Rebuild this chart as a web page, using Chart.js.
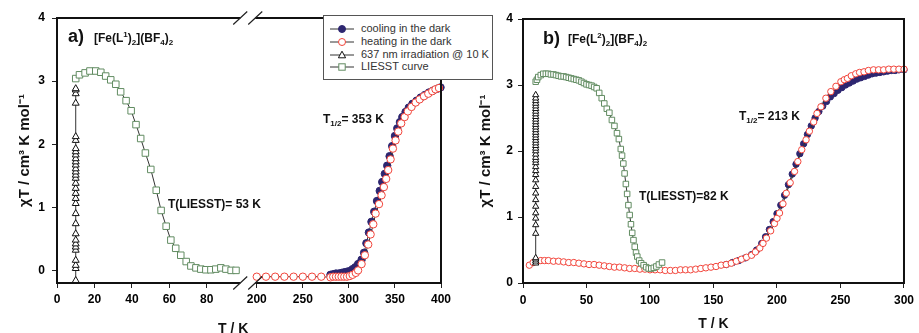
<!DOCTYPE html>
<html>
<head>
<meta charset="utf-8">
<script src="https://cdn.jsdelivr.net/npm/chart.js@4.4.1/dist/chart.umd.min.js"></script>
<style>
  body { margin: 0; background: #fff; }
  #page { position: relative; width: 919px; height: 333px; overflow: hidden; font-family: "Liberation Sans", Arial, sans-serif; }
  #chartA { position: absolute; left: 0; top: 0; }
  #chartB { position: absolute; left: 460px; top: 0; }
  .note { position: absolute; font-weight: bold; font-size: 12px; line-height: 1; color: #111; white-space: nowrap; }
  .note sub, .note sup { font-size: 8px; line-height: 0; }
  .big { font-size: 18px; }
  #legend { position: absolute; left: 323px; top: 15px; width: 170px; height: 65px; box-sizing: border-box;
            border: 1px solid #555; background: #fff; padding: 6px 0 0 6px; font-size: 11px; color: #333; }
  #legend .row { height: 12.8px; line-height: 12.8px; white-space: nowrap; }
  #legend svg { vertical-align: middle; margin-right: 7px; }
</style>
</head>
<body>
<div id="page">
  <canvas id="chartA" width="460" height="333"></canvas>
  <canvas id="chartB" width="459" height="333"></canvas>

  <div class="note big" style="left:68px; top:27px;">a)</div>
  <div class="note" style="left:94px; top:32px;">[Fe(L<sup>1</sup>)<sub>2</sub>](BF<sub>4</sub>)<sub>2</sub></div>
  <div class="note" style="left:168px; top:198px;">T(LIESST)= 53 K</div>
  <div class="note" style="left:323px; top:113px;">T<sub>1/2</sub>= 353 K</div>
  <div class="note" style="left:218px; top:321px; font-size:14px;">T / K</div>

  <div class="note big" style="left:543px; top:29px;">b)</div>
  <div class="note" style="left:568px; top:33px;">[Fe(L<sup>2</sup>)<sub>2</sub>](BF<sub>4</sub>)<sub>2</sub></div>
  <div class="note" style="left:739px; top:110px;">T<sub>1/2</sub>= 213 K</div>
  <div class="note" style="left:639px; top:190px;">T(LIESST)=82 K</div>

  <div id="legend"></div>
</div>

<script>
// ---------- panel a : [Fe(L1)2](BF4)2 ----------
const liesstA_T = [10, 12, 15, 17.6, 20.7, 23.4, 26, 28.7, 31.4, 34, 36.9, 39.6, 42.2, 44.7, 47.2, 50.1, 53, 55.6, 58.3, 60.8, 63.4, 66.1, 69, 71.5, 74.2, 76.8, 79.5, 82.2, 84.8, 87.5, 90.2, 93, 95.6];
const liesstA_Y = [3.04, 3.10, 3.13, 3.16, 3.16, 3.14, 3.08, 3.02, 2.95, 2.83, 2.69, 2.53, 2.31, 2.09, 1.86, 1.60, 1.27, 0.95, 0.70, 0.48, 0.35, 0.24, 0.14, 0.07, 0.04, 0.02, 0.01, 0.01, 0.02, 0.04, 0.02, 0.00, 0.00];
const irradA_Y = [-0.16, 0.03, 0.08, 0.16, 0.32, 0.37, 0.42, 0.48, 0.58, 0.74, 0.9, 1.06, 1.14, 1.22, 1.3, 1.38, 1.46, 1.51, 1.56, 1.61, 1.67, 1.72, 1.77, 1.83, 1.88, 1.93, 2.06, 2.12, 2.65, 2.8, 2.86, 2.88];
const coolA_T = [280, 283, 286, 289, 292, 295, 298, 301, 304, 307, 310, 313.8, 316.5, 319, 321.7, 324.5, 327.5, 330.5, 333.5, 336.2, 339, 341.6, 344.2, 347, 350, 352.5, 355.4, 358, 361.5, 365, 369, 373.5, 378, 382.5, 387, 391.5, 396, 399.5];
const coolA_Y = [-0.07, -0.06, -0.05, -0.05, -0.04, -0.03, -0.02, -0.01, 0.02, 0.05, 0.1, 0.17, 0.28, 0.43, 0.6, 0.77, 0.93, 1.1, 1.26, 1.4, 1.53, 1.66, 1.81, 1.97, 2.13, 2.25, 2.35, 2.43, 2.51, 2.58, 2.64, 2.69, 2.74, 2.78, 2.82, 2.85, 2.88, 2.9];
const heatA_T = [200, 210, 220, 230, 240, 250, 260, 270, 280, 283, 286, 289, 292, 295, 298, 301, 304, 307.5, 310, 313.8, 317.4, 321, 323.6, 326.5, 329, 332.7, 335.5, 338, 340.5, 342.7, 345.3, 347.8, 350.7, 353.6, 356.8, 360.5, 364, 368, 372.5, 376.8, 381.5, 386.2, 390.5, 394, 397.8];
const heatA_Y = [-0.1, -0.1, -0.1, -0.1, -0.1, -0.1, -0.1, -0.1, -0.11, -0.1, -0.1, -0.1, -0.1, -0.1, -0.1, -0.09, -0.07, -0.04, 0.0, 0.1, 0.24, 0.41, 0.57, 0.73, 0.9, 1.05, 1.19, 1.32, 1.45, 1.59, 1.76, 1.93, 2.06, 2.2, 2.33, 2.43, 2.52, 2.59, 2.66, 2.71, 2.76, 2.8, 2.84, 2.87, 2.89];

// ---------- panel b : [Fe(L2)2](BF4)2 ----------
const liesstB_T = [10, 11, 12, 14, 16, 18, 20, 22, 24, 26, 28, 30, 32, 34, 36, 38, 40, 42, 44, 46, 48, 50, 52, 54, 56, 58, 60, 62, 64, 66, 68, 70, 72, 74, 75.5, 77, 78, 79, 80, 81, 82, 83, 84, 85, 86, 87, 88, 89, 90, 91.5, 93, 95, 97, 99, 101, 103, 105, 107, 109.5];
const liesstB_Y = [3.05, 3.08, 3.12, 3.15, 3.17, 3.17, 3.17, 3.16, 3.16, 3.15, 3.14, 3.13, 3.13, 3.12, 3.11, 3.10, 3.09, 3.08, 3.07, 3.05, 3.03, 3.01, 3.00, 2.99, 2.97, 2.95, 2.88, 2.80, 2.72, 2.64, 2.58, 2.47, 2.38, 2.27, 2.18, 2.03, 1.93, 1.81, 1.66, 1.50, 1.35, 1.18, 1.03, 0.89, 0.76, 0.65, 0.55, 0.46, 0.40, 0.34, 0.30, 0.27, 0.24, 0.22, 0.22, 0.23, 0.25, 0.28, 0.31];
const irradB_Y = [0.3, 0.33, 0.36, 0.38, 0.75, 0.88, 0.98, 1.06, 1.16, 1.26, 1.36, 1.46, 1.56, 1.64, 1.7, 1.76, 1.82, 1.86, 1.9, 1.95, 2.0, 2.04, 2.08, 2.12, 2.16, 2.2, 2.24, 2.28, 2.32, 2.36, 2.4, 2.44, 2.48, 2.52, 2.56, 2.6, 2.64, 2.68, 2.72, 2.76, 2.8, 2.85];
const coolB_T = [160, 165, 170, 175, 180, 184, 188, 191, 194, 197, 200, 203, 206, 209, 212, 215, 218, 221, 224, 227, 230, 233, 236, 239, 242, 245, 248, 251, 254, 257, 260, 263, 266, 269, 272, 275, 278, 281, 284, 287, 290, 293, 296, 300];
const coolB_Y = [0.28, 0.31, 0.34, 0.38, 0.43, 0.5, 0.6, 0.7, 0.81, 0.93, 1.05, 1.18, 1.33, 1.49, 1.65, 1.8, 1.96, 2.11, 2.25, 2.38, 2.5, 2.6, 2.68, 2.75, 2.82, 2.87, 2.92, 2.96, 3.0, 3.03, 3.06, 3.09, 3.11, 3.13, 3.15, 3.17, 3.18, 3.19, 3.2, 3.21, 3.22, 3.22, 3.23, 3.23];
const heatB_T = [5, 8, 11, 14, 17, 20, 24, 28, 32, 36, 40, 44, 48, 52, 56, 60, 64, 68, 72, 76, 80, 84, 88, 92, 96, 100, 104, 108, 112, 116, 120, 124, 128, 132, 136, 140, 144, 148, 152, 156, 160, 164, 168, 172, 176, 180, 183, 186.5, 189, 191.7, 195, 198, 200, 202, 204.7, 207.3, 210.4, 213.8, 216.4, 219.5, 222.9, 225.5, 228.9, 231.5, 234.6, 238.5, 242.4, 246.4, 250.3, 253, 255.5, 258.5, 262, 265, 268.5, 272, 276, 280, 284, 288, 292, 296, 300];
const heatB_Y = [0.27, 0.31, 0.33, 0.34, 0.34, 0.34, 0.33, 0.33, 0.32, 0.31, 0.31, 0.3, 0.29, 0.28, 0.28, 0.27, 0.26, 0.25, 0.24, 0.24, 0.23, 0.22, 0.22, 0.21, 0.21, 0.2, 0.2, 0.2, 0.19, 0.19, 0.19, 0.2, 0.2, 0.2, 0.21, 0.22, 0.23, 0.24, 0.25, 0.27, 0.28, 0.3, 0.33, 0.36, 0.39, 0.42, 0.47, 0.53, 0.6, 0.68, 0.79, 0.9, 0.98, 1.06, 1.2, 1.36, 1.52, 1.69, 1.84, 2.02, 2.17, 2.3, 2.44, 2.57, 2.67, 2.8, 2.9, 2.98, 3.05, 3.08, 3.1, 3.14, 3.17, 3.19, 3.2, 3.22, 3.23, 3.23, 3.23, 3.24, 3.24, 3.24, 3.24];

const irradT = 10;   // K, irradiation temperature
const yTicks = [0, 1, 2, 3, 4];
const xTicksA = [0, 20, 40, 60, 80, 200, 250, 300, 350, 400];
const xTicksB = [0, 50, 100, 150, 200, 250, 300];

// broken axis of panel a: 0..~98 K on the left, 198..400 K on the right
function mapA(t) { return t < 150 ? t * 1.87 : 199.5 + (t - 200) * 0.92; }
const gapA = [183, 198];

const navy = '#2d2670', red = '#f2443a', green = '#628c62', black = '#111';
const fontFam = '"Liberation Sans", Arial, sans-serif';
Chart.defaults.font.family = fontFam;
Chart.defaults.color = '#000';

function pts(T, Y, map) { return T.map((t, i) => ({ x: map(t), y: Y[i] })); }
function column(Y, map) { return Y.map(v => ({ x: map(irradT), y: v })); }
const same = t => t;

function serie(label, data, shape, edge, fill, r) {
    return {
        label: label, data: data, showLine: true, borderColor: '#333', borderWidth: 1,
        pointStyle: shape, pointRadius: r, pointBorderColor: edge, pointBackgroundColor: fill,
        pointBorderWidth: 1, clip: false
    };
}

// frame round the plot area, with the axis break for panel a
const framePlugin = {
    id: 'frame',
    afterDatasetsDraw(chart, args, opts) {
        const ctx = chart.ctx, a = chart.chartArea;
        ctx.save();
        ctx.strokeStyle = '#111';
        ctx.lineWidth = 2;
        ctx.beginPath();
        ctx.moveTo(a.left, a.top); ctx.lineTo(a.left, a.bottom);
        ctx.moveTo(a.right, a.top); ctx.lineTo(a.right, a.bottom);
        if (opts.gap) {
            const g1 = chart.scales.x.getPixelForValue(opts.gap[0]);
            const g2 = chart.scales.x.getPixelForValue(opts.gap[1]);
            ctx.moveTo(a.left - 1, a.top); ctx.lineTo(g1, a.top);
            ctx.moveTo(g2, a.top); ctx.lineTo(a.right + 1, a.top);
            ctx.moveTo(a.left - 1, a.bottom); ctx.lineTo(g1, a.bottom);
            ctx.moveTo(g2, a.bottom); ctx.lineTo(a.right + 1, a.bottom);
            ctx.stroke();
            ctx.lineWidth = 1.2;
            ctx.strokeStyle = '#222';
            ctx.beginPath();
            [g1, g2].forEach(g => {
                [a.top, a.bottom].forEach(y => {
                    ctx.moveTo(g - 7, y + 6.5);
                    ctx.lineTo(g + 7, y - 6.5);
                });
            });
        } else {
            ctx.moveTo(a.left - 1, a.top); ctx.lineTo(a.right + 1, a.top);
            ctx.moveTo(a.left - 1, a.bottom); ctx.lineTo(a.right + 1, a.bottom);
        }
        ctx.stroke();
        ctx.restore();
    }
};

const tickFont = { size: 12, weight: 'bold' };
const gridStyle = { drawOnChartArea: false, drawTicks: true, tickLength: 5, color: '#222', lineWidth: 1 };

function yAxis(min, width, titlePad, labelPad) {
    return {
        type: 'linear', min: min, max: 4,
        afterBuildTicks: s => { s.ticks = yTicks.map(v => ({ value: v })); },
        afterFit: s => { s.width = width; },
        ticks: { font: tickFont, padding: labelPad, color: '#000' },
        grid: gridStyle,
        border: { display: false },
        title: { display: true, text: 'χT / cm³ K mol⁻¹', font: { size: 15, weight: 'bold' }, color: '#111', padding: { top: titlePad, bottom: 0 } }
    };
}

const commonOpts = {
    responsive: false,
    animation: false,
    plugins: { legend: { display: false }, tooltip: { enabled: false } }
};

const chartA = new Chart(document.getElementById('chartA'), {
    type: 'scatter',
    data: {
        datasets: [
            serie('637 nm irradiation @ 10 K', column(irradA_Y, mapA), 'triangle', black, '#fff', 4),
            serie('LIESST curve', pts(liesstA_T, liesstA_Y, mapA), 'rect', green, '#fff', 4.6),
            serie('heating in the dark', pts(heatA_T, heatA_Y, mapA), 'circle', red, '#fff', 3.7),
            serie('cooling in the dark', pts(coolA_T, coolA_Y, mapA), 'circle', navy, navy, 3.7)
        ]
    },
    options: Object.assign({}, commonOpts, {
        layout: { padding: { top: 18, right: 19, bottom: 0, left: 0 } },
        plugins: Object.assign({}, commonOpts.plugins, { frame: { gap: gapA } }),
        scales: {
            x: {
                type: 'linear', min: 0, max: mapA(400),
                afterBuildTicks: s => { s.ticks = xTicksA.map(t => ({ value: mapA(t) })); },
                afterFit: s => { s.height = 50; },
                ticks: { font: tickFont, padding: 4, autoSkip: false, maxRotation: 0, color: '#000',
                         callback: (v, i) => xTicksA[i] },
                grid: gridStyle,
                border: { display: false }
            },
            y: yAxis(-0.2, 57, 16, 7)
        }
    }),
    plugins: [framePlugin]
});

const chartB = new Chart(document.getElementById('chartB'), {
    type: 'scatter',
    data: {
        datasets: [
            serie('637 nm irradiation @ 10 K', column(irradB_Y, same), 'triangle', black, '#fff', 3.6),
            serie('LIESST curve', pts(liesstB_T, liesstB_Y, same), 'rect', green, '#fff', 3.9),
            serie('heating in the dark', pts(heatB_T, heatB_Y, same), 'circle', red, '#fff', 3.2),
            serie('cooling in the dark', pts(coolB_T, coolB_Y, same), 'circle', navy, navy, 3.2)
        ]
    },
    options: Object.assign({}, commonOpts, {
        layout: { padding: { top: 19, right: 12, bottom: 0, left: 0 } },
        plugins: Object.assign({}, commonOpts.plugins, { frame: {} }),
        scales: {
            x: {
                type: 'linear', min: 0, max: 300,
                afterBuildTicks: s => { s.ticks = xTicksB.map(t => ({ value: t })); },
                afterFit: s => { s.height = 50; },
                ticks: { font: tickFont, padding: 5, autoSkip: false, maxRotation: 0, color: '#000' },
                grid: gridStyle,
                border: { display: false },
                title: { display: true, text: 'T / K', font: { size: 14, weight: 'bold' }, color: '#111', padding: { top: 0, bottom: 0 } }
            },
            y: yAxis(0, 63, 17, 5)
        }
    }),
    plugins: [framePlugin]
});

// legend box shared by both panels, built from the panel a datasets
const legendOrder = ['cooling in the dark', 'heating in the dark', '637 nm irradiation @ 10 K', 'LIESST curve'];
const legend = document.getElementById('legend');
legendOrder.forEach(name => {
    const d = chartA.data.datasets.find(s => s.label === name);
    let mark;
    if (d.pointStyle === 'circle') mark = `<circle cx="12" cy="5" r="3.5" fill="${d.pointBackgroundColor}" stroke="${d.pointBorderColor}"/>`;
    else if (d.pointStyle === 'rect') mark = `<rect x="8.8" y="1.8" width="6.4" height="6.4" fill="#fff" stroke="${d.pointBorderColor}"/>`;
    else mark = `<polygon points="12,1.2 15.6,7.8 8.4,7.8" fill="#fff" stroke="${d.pointBorderColor}"/>`;
    const row = document.createElement('div');
    row.className = 'row';
    row.innerHTML = `<svg width="24" height="10"><line x1="0" y1="5" x2="24" y2="5" stroke="#333" stroke-width="1"/>${mark}</svg>${name}`;
    legend.appendChild(row);
});
</script>
</body>
</html>
